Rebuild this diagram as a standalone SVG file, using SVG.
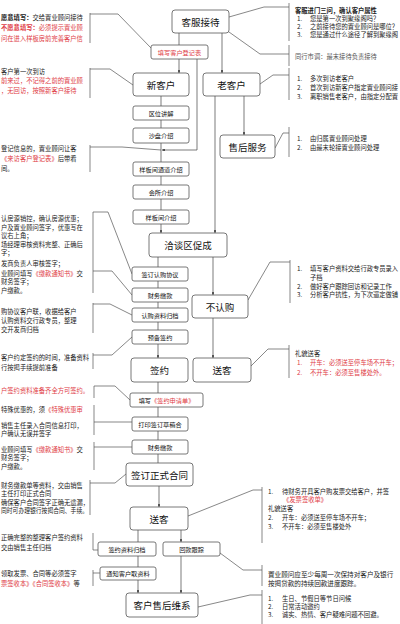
<svg xmlns="http://www.w3.org/2000/svg" width="400" height="624" viewBox="0 0 400 624">
<defs>
<marker id="ar" viewBox="0 0 6 6" refX="6" refY="3" markerWidth="4" markerHeight="4" orient="auto"><path d="M0,0 L6,3 L0,6 z" fill="#333"/></marker>
<style>
.box{fill:#fff;stroke:#555;stroke-width:0.8}
.big{font-family:"Noto Sans CJK SC",sans-serif;font-size:9.5px;fill:#111;text-anchor:middle;dominant-baseline:central}
.sm{font-family:"Noto Sans CJK SC",sans-serif;font-size:6.2px;fill:#111;text-anchor:middle;dominant-baseline:central}
.ln{fill:none;stroke:#444;stroke-width:0.7}
.br{fill:none;stroke:#555;stroke-width:0.7}
.t{font-family:"Noto Sans CJK SC",sans-serif;font-size:6.3px;fill:#222;dominant-baseline:central}
.r{fill:#e03c46}
.b{font-weight:bold}
.g{fill:#555}
</style>
</defs>
<rect width="400" height="624" fill="#fff"/>

<g id="connectors">
<path class="ln" d="M179,33 V45"/>
<path class="ln" d="M179,59 V73" marker-end="url(#ar)"/>
<path class="ln" d="M222,33 V73" marker-end="url(#ar)"/>
<path class="ln" d="M197,59 V150 H162" marker-end="url(#ar)"/>
<path class="ln" d="M161,96 V106 M161,120 V128 M161,143 V162 M161,176 V185 M161,199 V210"/>
<path class="ln" d="M161,224 V233" marker-end="url(#ar)"/>
<path class="ln" d="M215,96 V233" marker-end="url(#ar)"/>
<path class="ln" d="M244,96 V135" marker-end="url(#ar)"/>
<path class="ln" d="M158,257 V267 M158,281 V288 M158,302 V308 M158,322 V330"/>
<path class="ln" d="M158,344 V358" marker-end="url(#ar)"/>
<path class="ln" d="M213,257 V295" marker-end="url(#ar)"/>
<path class="ln" d="M213,318 V358" marker-end="url(#ar)"/>
<path class="ln" d="M158,382 V393 M158,407 V417 M158,431 V440 M158,454 V463"/>
<path class="ln" d="M159,486 V507" marker-end="url(#ar)"/>
<path class="ln" d="M138,530 V542 M138,556 V567"/>
<path class="ln" d="M138,580 V593" marker-end="url(#ar)"/>
<path class="ln" d="M181,530 V542" marker-end="url(#ar)"/>
<path class="ln" d="M181,556 V593" marker-end="url(#ar)"/>
<path class="br" d="M90,13 V43 M90,14 H118 L151,48"/>
<path class="br" d="M90,68 V98 M90,69 H110 L133,85"/>
<path class="br" d="M90,145 V172 M90,147 H122 L161,150"/>
<path class="br" d="M93,212 V293 M93,212 H108 L132,274 M93,271 H112 L132,295"/>
<path class="br" d="M93,303 V333 M93,304 H110 L132,315"/>
<path class="br" d="M93,353 V369 M93,355 H112 L132,337"/>
<path class="br" d="M94,386 V398 M94,386 H115 L130,400"/>
<path class="br" d="M94,405 V435 M94,422 H132"/>
<path class="br" d="M94,442 V470 M94,447 H132"/>
<path class="br" d="M90,480 V515 M90,483 H115 L126,474"/>
<path class="br" d="M93,533 V550 H98"/>
<path class="br" d="M93,570 V586 M93,573 H100"/>
<path class="br" d="M289,3 V41 M229,17 L264,7 H289"/>
<path class="br" d="M289,45 V66 M229,32 L260,54 H289"/>
<path class="br" d="M289,68 V100 M260,84 L273,75 H289"/>
<path class="br" d="M289,127 V157 M275,148 L283,133 H289"/>
<path class="br" d="M290,260 V303 M248,300 L270,262 H290"/>
<path class="br" d="M289,345 V378 M251,366 L268,349 H289"/>
<path class="br" d="M262,487 V543 M188,516 L253,490 H262"/>
<path class="br" d="M262,565 V586 M220,553 L243,570 H262"/>
<path class="br" d="M262,590 V624 M198,607 L250,595 H262"/>
</g>

<g id="n1"><rect class="box" x="172" y="10" width="57" height="23" rx="3"/><text class="big" x="200.5" y="21.5">客服接待</text></g>
<g id="n2"><rect class="box" x="151" y="45" width="57" height="14" rx="2"/><text class="sm r" x="179.5" y="52">填写客户登记表</text></g>
<g id="n3"><rect class="box" x="133" y="73" width="56" height="23" rx="3"/><text class="big" x="161" y="84.5">新客户</text></g>
<g id="n4"><rect class="box" x="203" y="73" width="57" height="23" rx="3"/><text class="big" x="231.5" y="84.5">老客户</text></g>
<g id="n5"><rect class="box" x="133" y="106" width="56" height="14" rx="2"/><text class="sm" x="161" y="113">区位讲解</text></g>
<g id="n6"><rect class="box" x="133" y="128" width="56" height="15" rx="2"/><text class="sm" x="161" y="135.5">沙盘介绍</text></g>
<g id="n7"><rect class="box" x="220" y="135" width="55" height="23" rx="3"/><text class="big" x="247.5" y="146.5">售后服务</text></g>
<g id="n8"><rect class="box" x="133" y="162" width="56" height="14" rx="2"/><text class="sm" x="161" y="169">样板间通道介绍</text></g>
<g id="n9"><rect class="box" x="133" y="185" width="56" height="14" rx="2"/><text class="sm" x="161" y="192">会所介绍</text></g>
<g id="n10"><rect class="box" x="133" y="210" width="56" height="14" rx="2"/><text class="sm" x="161" y="217">样板间介绍</text></g>
<g id="n11"><rect class="box" x="149" y="233" width="78" height="24" rx="3"/><text class="big" x="188" y="245">洽谈区促成</text></g>
<g id="n12"><rect class="box" x="132" y="267" width="56" height="14" rx="2"/><text class="sm" x="160" y="274">签订认购协议</text></g>
<g id="n13"><rect class="box" x="132" y="288" width="56" height="14" rx="2"/><text class="sm" x="160" y="295">财务缴款</text></g>
<g id="n14"><rect class="box" x="192" y="295" width="56" height="23" rx="3"/><text class="big" x="220" y="306.5">不认购</text></g>
<g id="n15"><rect class="box" x="132" y="308" width="56" height="14" rx="2"/><text class="sm" x="160" y="315">认购资料归档</text></g>
<g id="n16"><rect class="box" x="132" y="330" width="56" height="14" rx="2"/><text class="sm" x="160" y="337">预备签约</text></g>
<g id="n17"><rect class="box" x="131" y="358" width="57" height="24" rx="3"/><text class="big" x="159.5" y="370">签约</text></g>
<g id="n18"><rect class="box" x="193" y="358" width="58" height="24" rx="3"/><text class="big" x="222" y="370">送客</text></g>
<g id="n19"><rect class="box" x="130" y="393" width="73" height="14" rx="2"/><text class="sm" x="166.5" y="400">填写<tspan class="r">《签约申请单》</tspan></text></g>
<g id="n20"><rect class="box" x="132" y="417" width="56" height="14" rx="2"/><text class="sm" x="160" y="424">打印签订草稿合</text></g>
<g id="n21"><rect class="box" x="132" y="440" width="56" height="14" rx="2"/><text class="sm" x="160" y="447">财务缴款</text></g>
<g id="n22"><rect class="box" x="126" y="463" width="67" height="23" rx="3"/><text class="big" x="159.5" y="474.5">签订正式合同</text></g>
<g id="n23"><rect class="box" x="130" y="507" width="58" height="23" rx="3"/><text class="big" x="159" y="518.5">送客</text></g>
<g id="n24"><rect class="box" x="98" y="542" width="58" height="14" rx="2"/><text class="sm" x="127" y="549">签约资料归档</text></g>
<g id="n25"><rect class="box" x="163" y="542" width="57" height="14" rx="2"/><text class="sm" x="191.5" y="549">回款跟踪</text></g>
<g id="n26"><rect class="box" x="100" y="567" width="56" height="13" rx="2"/><text class="sm" x="128" y="573.5">通知客户取资料</text></g>
<g id="n27"><rect class="box" x="126" y="593" width="72" height="24" rx="3"/><text class="big" x="162" y="605">客户售后维系</text></g>

<g id="notes-left">
<text class="t" x="1" y="17"><tspan class="b">愿意填写：</tspan>交给置业顾问接待</text>
<text class="t r" x="1" y="27"><tspan class="b">不愿意填写：</tspan>必须提示置业顾</text>
<text class="t r" x="1" y="38">问在进入样板房前完善客户信</text>
<text class="t" x="1" y="71">客户第一次到访</text>
<text class="t r" x="1" y="80">前来过，不记得之前的置业顾</text>
<text class="t r" x="1" y="90">，无回访，按照新客户接待</text>
<text class="t" x="1" y="148">登记信息的，置业顾问让客</text>
<text class="t" x="1" y="158"><tspan class="r">《来访客户登记表》</tspan>后带看</text>
<text class="t" x="1" y="168">间。</text>
<text class="t" x="1" y="218">认房源销控，确认房源优惠；</text>
<text class="t" x="1" y="227">户及置业顾问签字，优惠写在</text>
<text class="t" x="1" y="235">议右上角；</text>
<text class="t" x="1" y="244">场经理审核资料完整、正确后</text>
<text class="t" x="1" y="252">字；</text>
<text class="t" x="1" y="263">发商负责人审核签字；</text>
<text class="t" x="1" y="273">业顾问填写<tspan class="r">《缴款通知书》</tspan>交</text>
<text class="t" x="1" y="281">财务签字；</text>
<text class="t" x="1" y="290">户缴款。</text>
<text class="t" x="1" y="311">购协议客户联，收据给客户</text>
<text class="t" x="1" y="320">认购资料交行政专员，整理</text>
<text class="t" x="1" y="329">交开发商归档</text>
<text class="t" x="1" y="357">客户约定签约的时间，准备资料</text>
<text class="t" x="1" y="367">行按揭手续提前准备</text>
<text class="t r" x="1" y="390">户签约资料准备齐全方可签约。</text>
<text class="t" x="1" y="409">特殊优惠的，须<tspan class="r">《特殊优惠审</tspan></text>
<text class="t" x="1" y="425">销售主任录入合同信息打印，</text>
<text class="t" x="1" y="433">户确认无误并签字</text>
<text class="t" x="1" y="449">业顾问填写<tspan class="r">《缴款通知书》</tspan>交</text>
<text class="t" x="1" y="457">财务签字；</text>
<text class="t" x="1" y="466">户缴款。</text>
<text class="t" x="1" y="485">财务缴款单等资料，交由销售</text>
<text class="t" x="1" y="493">主任打印正式合同</text>
<text class="t" x="1" y="502">确保客户合同签字正确无遗漏，</text>
<text class="t" x="1" y="510" textLength="87" lengthAdjust="spacingAndGlyphs">同时可办理银行按揭合同、手续。</text>
<text class="t" x="1" y="537">正确完整的整理客户签约资料</text>
<text class="t" x="1" y="547">交由销售主任归档</text>
<text class="t" x="1" y="573">领取发票、合同等必须签字</text>
<text class="t" x="1" y="583"><tspan class="r">票签收本》《合同签收本》</tspan>等</text>
</g>

<g id="notes-right">
<text class="t b" x="295" y="10">客服进门三问，确认客户属性</text>
<text class="t" x="297" y="18">1.</text><text class="t" x="310" y="18">您是第一次到聚缘阁吗？</text>
<text class="t" x="297" y="26">2.</text><text class="t" x="310" y="26">之前接待您的置业顾问是哪位？</text>
<text class="t" x="297" y="34">3.</text><text class="t" x="310" y="34">您是通过什么途径了解到聚缘阁</text>
<text class="t g" x="295" y="56">同行市调：最末接待负责接待</text>
<text class="t" x="297" y="78">1.</text><text class="t" x="310" y="78">多次到访老客户</text>
<text class="t" x="297" y="87">2.</text><text class="t" x="310" y="87">首次到访新客户指定置业顾问接</text>
<text class="t" x="297" y="96">3.</text><text class="t" x="310" y="96">离职销售老客户，由指定分配置</text>
<text class="t" x="297" y="138">1.</text><text class="t" x="310" y="138">由归属置业顾问处理</text>
<text class="t" x="297" y="147">2.</text><text class="t" x="310" y="147">由最末轮接置业顾问处理</text>
<text class="t" x="297" y="268">1.</text><text class="t" x="310" y="268">填写客户资料交给行政专员录入</text>
<text class="t" x="310" y="277">子档</text>
<text class="t" x="297" y="286">2.</text><text class="t" x="310" y="286">做好客户跟踪回访和记录工作</text>
<text class="t" x="297" y="294">3.</text><text class="t" x="310" y="294">分析客户抗性，为下次逼定做铺</text>
<text class="t" x="295" y="353">礼貌送客</text>
<text class="t r" x="297" y="362">1.</text><text class="t r" x="310" y="362">开车：必须送至停车场不开车；</text>
<text class="t r" x="297" y="372">2.</text><text class="t r" x="310" y="372">不开车：必须至售楼处外。</text>
<text class="t" x="268" y="491">1.</text><text class="t" x="282" y="491">待财务开具客户购发票交给客户，并签</text>
<text class="t r" x="283" y="499">《发票签收单》</text>
<text class="t" x="268" y="508">礼貌送客</text>
<text class="t" x="268" y="517">2.</text><text class="t" x="282" y="517">开车：必须送至停车场不开车；</text>
<text class="t" x="268" y="526">3.</text><text class="t" x="282" y="526">不开车：必须至售楼处外</text>
<text class="t" x="268" y="574" style="font-size:6.6px">置业顾问应至少每周一次保持对客户及银行</text>
<text class="t" x="268" y="583" style="font-size:6.6px">按揭贷款的持续回款进度跟踪。</text>
<text class="t" x="268" y="598">1.</text><text class="t" x="282" y="598">生日、节假日等节日问候</text>
<text class="t" x="268" y="606">2.</text><text class="t" x="282" y="606">日常活动邀约</text>
<text class="t" x="268" y="614">3.</text><text class="t" x="282" y="614">诚实、热情、客户疑难问题不回避。</text>
</g>
</svg>
